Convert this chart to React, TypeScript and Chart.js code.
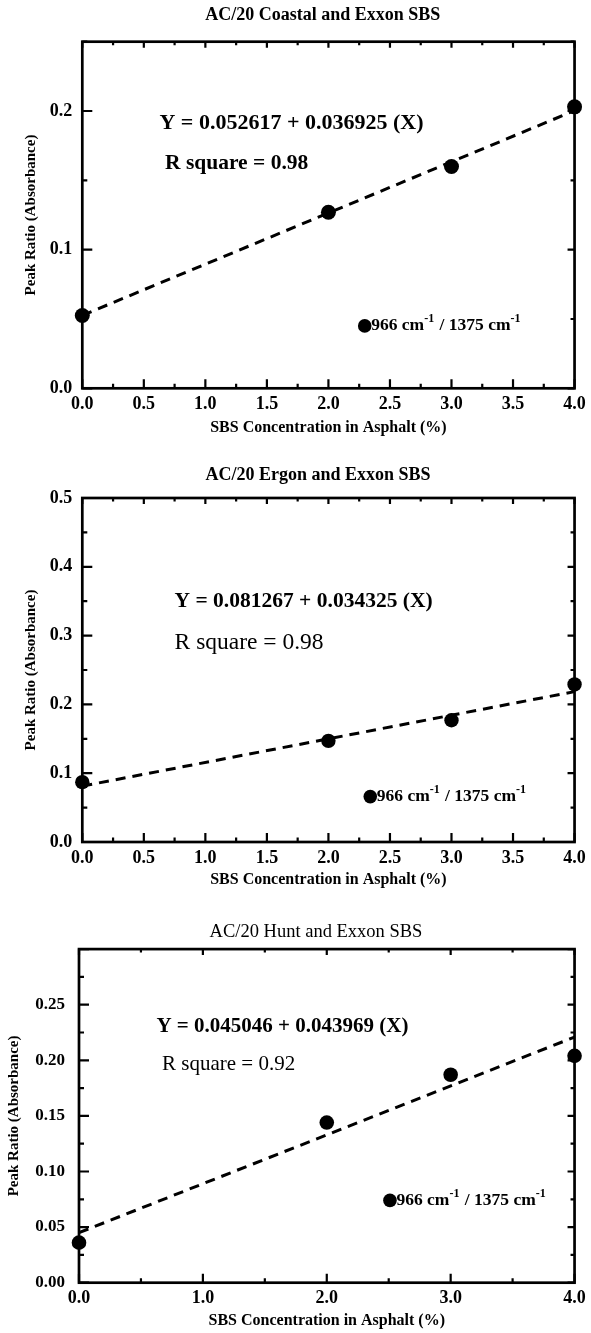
import React, { useEffect, useRef } from "react";
import { Chart, registerables } from "chart.js";

Chart.register(...registerables);

const FONT = "'Liberation Serif', 'Times New Roman', Times, serif";

// ---------- data ----------
const sbsPercent = [0, 2, 3, 4];
const coastalPeakRatio = [0.0525, 0.127, 0.16, 0.203];
const ergonPeakRatio = [0.087, 0.147, 0.177, 0.229];
const huntPeakRatio = [0.036, 0.144, 0.187, 0.204];

const fitPercent = [0, 4];
const coastalFit = [0.0526, 0.2003];
const ergonFit = [0.0813, 0.2186];
const huntFit = [0.045, 0.2209];

const xTickLabelsHalf = ["0.0", "0.5", "1.0", "1.5", "2.0", "2.5", "3.0", "3.5", "4.0"];
const xTickLabelsWhole = ["0.0", "1.0", "2.0", "3.0", "4.0"];
const coastalYTickLabels = ["0.0", "0.1", "0.2"];
const ergonYTickLabels = ["0.0", "0.1", "0.2", "0.3", "0.4", "0.5"];
const huntYTickLabels = ["0.00", "0.05", "0.10", "0.15", "0.20", "0.25"];

const chartTitles = [
  "AC/20 Coastal and Exxon SBS",
  "AC/20 Ergon and Exxon SBS",
  "AC/20 Hunt and Exxon SBS",
];
const equations = [
  "Y = 0.052617 + 0.036925 (X)",
  "Y = 0.081267 + 0.034325 (X)",
  "Y = 0.045046 + 0.043969 (X)",
];
const rSquares = ["R square = 0.98", "R square = 0.98", "R square = 0.92"];
const xAxisTitle = "SBS Concentration in Asphalt (%)";
const yAxisTitle = "Peak Ratio (Absorbance)";
const legendParts = ["966 cm", "-1", " / 1375 cm", "-1"];

// ---------- layout specs ----------
type Spec = {
  top: number;
  height: number;
  title: string;
  titleFont: { size: number; weight: string };
  titlePadTop: number;
  titlePadBottom: number;
  leftWidth: number;
  padRight: number;
  rightWidth: number;
  xAxisHeight: number;
  xTitlePad: number;
  yTitlePad: number;
  xTickPad: number;
  yTickPad: number;
  yTickSize: number;
  yMax: number;
  yStep: number;
  yMajor: number;
  yLabels: string[];
  xStep: number;
  xMajor: number;
  xLabels: string[];
  points: number[];
  fit: number[];
  eq: string;
  eqPos: [number, number];
  eqFont: string;
  rsq: string;
  rsqPos: [number, number];
  rsqFont: string;
  legendPos: [number, number];
  pointRadius: number;
};

const specs: Spec[] = [
  {
    top: 0,
    height: 440,
    title: chartTitles[0],
    titleFont: { size: 18, weight: "bold" },
    titlePadTop: 4.2,
    titlePadBottom: 15.9,
    leftWidth: 82.3,
    padRight: -54.6,
    rightWidth: 65.3,
    xAxisHeight: 51.7,
    xTitlePad: 2.4,
    yTitlePad: 22,
    xTickPad: 5.2,
    yTickPad: 10,
    yTickSize: 18,
    yMax: 0.25,
    yStep: 0.05,
    yMajor: 0.1,
    yLabels: coastalYTickLabels,
    xStep: 0.25,
    xMajor: 0.5,
    xLabels: xTickLabelsHalf,
    points: coastalPeakRatio,
    fit: coastalFit,
    eq: equations[0],
    eqPos: [0.627, 0.191],
    eqFont: `bold 22px ${FONT}`,
    rsq: rSquares[0],
    rsqPos: [0.672, 0.162],
    rsqFont: `bold 21.5px ${FONT}`,
    legendPos: [2.295, 0.045],
    pointRadius: 7.5,
  },
  {
    top: 440,
    height: 455,
    title: chartTitles[1],
    titleFont: { size: 18, weight: "bold" },
    titlePadTop: 24.2,
    titlePadBottom: 12.2,
    leftWidth: 82.3,
    padRight: -45,
    rightWidth: 56.5,
    xAxisHeight: 53,
    xTitlePad: 5.4,
    yTitlePad: 22,
    xTickPad: 5.2,
    yTickPad: 10,
    yTickSize: 18,
    yMax: 0.5,
    yStep: 0.05,
    yMajor: 0.1,
    yLabels: ergonYTickLabels,
    xStep: 0.25,
    xMajor: 0.5,
    xLabels: xTickLabelsHalf,
    points: ergonPeakRatio,
    fit: ergonFit,
    eq: equations[1],
    eqPos: [0.75, 0.349],
    eqFont: `bold 21.5px ${FONT}`,
    rsq: rSquares[1],
    rsqPos: [0.75, 0.289],
    rsqFont: `23.5px ${FONT}`,
    legendPos: [2.34, 0.066],
    pointRadius: 7.2,
  },
  {
    top: 895,
    height: 438,
    title: chartTitles[2],
    titleFont: { size: 18.5, weight: "normal" },
    titlePadTop: 25.9,
    titlePadBottom: 6,
    leftWidth: 79,
    padRight: -41,
    rightWidth: 56,
    xAxisHeight: 50.3,
    xTitlePad: 2.4,
    yTitlePad: 5,
    xTickPad: 5.2,
    yTickPad: 14,
    yTickSize: 17,
    yMax: 0.3,
    yStep: 0.025,
    yMajor: 0.05,
    yLabels: huntYTickLabels,
    xStep: 0.5,
    xMajor: 1,
    xLabels: xTickLabelsWhole,
    points: huntPeakRatio,
    fit: huntFit,
    eq: equations[2],
    eqPos: [0.625, 0.23],
    eqFont: `bold 21px ${FONT}`,
    rsq: rSquares[2],
    rsqPos: [0.67, 0.196],
    rsqFont: `21px ${FONT}`,
    legendPos: [2.51, 0.074],
    pointRadius: 7.3,
  },
];

const isMultiple = (v: number, step: number) =>
  Math.abs(v / step - Math.round(v / step)) < 1e-6;

function makeOverlay(spec: Spec) {
  return {
    id: "overlay",
    beforeDatasetsDraw(chart: any) {
      const { ctx, chartArea: a } = chart;
      const xs = chart.scales.x;
      const ys = chart.scales.y;
      ctx.save();
      ctx.strokeStyle = "#000";
      ctx.lineWidth = 2.7;
      ctx.strokeRect(a.left, a.top, a.right - a.left, a.bottom - a.top);
      ctx.lineWidth = 2.2;
      ctx.beginPath();
      xs.ticks.forEach((t: any) => {
        const px = xs.getPixelForValue(t.value);
        const major = isMultiple(t.value, spec.xMajor);
        ctx.moveTo(px, a.bottom);
        ctx.lineTo(px, a.bottom - (major ? 9 : 4.5));
        ctx.moveTo(px, a.top);
        ctx.lineTo(px, a.top + (major ? 6 : 3.5));
      });
      ys.ticks.forEach((t: any) => {
        const py = ys.getPixelForValue(t.value);
        const major = isMultiple(t.value, spec.yMajor);
        ctx.moveTo(a.left, py);
        ctx.lineTo(a.left + (major ? 10 : 5), py);
        ctx.moveTo(a.right, py);
        ctx.lineTo(a.right - (major ? 7 : 4), py);
      });
      ctx.stroke();
      ctx.restore();
    },
    afterDatasetsDraw(chart: any) {
      const { ctx } = chart;
      const xs = chart.scales.x;
      const ys = chart.scales.y;
      ctx.save();
      ctx.fillStyle = "#000";
      ctx.textBaseline = "middle";
      ctx.textAlign = "left";
      ctx.font = spec.eqFont;
      ctx.fillText(spec.eq, xs.getPixelForValue(spec.eqPos[0]), ys.getPixelForValue(spec.eqPos[1]));
      ctx.font = spec.rsqFont;
      ctx.fillText(spec.rsq, xs.getPixelForValue(spec.rsqPos[0]), ys.getPixelForValue(spec.rsqPos[1]));

      // legend
      const lx = xs.getPixelForValue(spec.legendPos[0]);
      const ly = ys.getPixelForValue(spec.legendPos[1]);
      ctx.beginPath();
      ctx.arc(lx, ly, 6.8, 0, Math.PI * 2);
      ctx.fill();
      let tx = lx + 6.5;
      const mainFont = `bold 17.5px ${FONT}`;
      const supFont = `bold 12px ${FONT}`;
      legendParts.forEach((part, i) => {
        const sup = i % 2 === 1;
        ctx.font = sup ? supFont : mainFont;
        ctx.fillText(part, tx, sup ? ly - 7 : ly);
        tx += ctx.measureText(part).width + (sup ? 1 : 0);
      });
      ctx.restore();
    },
  };
}

function makeConfig(spec: Spec): any {
  return {
    type: "scatter",
    data: {
      datasets: [
        {
          label: "966 cm-1 / 1375 cm-1",
          data: sbsPercent.map((x, i) => ({ x, y: spec.points[i] })),
          pointRadius: spec.pointRadius,
          pointHoverRadius: spec.pointRadius,
          backgroundColor: "#000",
          borderColor: "#000",
          borderWidth: 0,
          clip: false,
        },
        {
          label: "fit",
          data: fitPercent.map((x, i) => ({ x, y: spec.fit[i] })),
          showLine: true,
          borderColor: "#000",
          borderWidth: 3,
          borderDash: [10, 7],
          pointRadius: 0,
          fill: false,
          clip: false,
        },
      ],
    },
    options: {
      responsive: false,
      animation: false,
      devicePixelRatio: 1,
      layout: { padding: { left: 0, right: spec.padRight, top: 0, bottom: 0 } },
      plugins: {
        legend: { display: false },
        tooltip: { enabled: false },
        title: {
          display: true,
          text: spec.title,
          color: "#000",
          fullSize: true,
          font: { family: FONT, size: spec.titleFont.size, weight: spec.titleFont.weight, lineHeight: 1.2 },
          padding: { top: spec.titlePadTop, bottom: spec.titlePadBottom },
        },
      },
      scales: {
        x: {
          type: "linear",
          position: "bottom",
          min: 0,
          max: 4,
          grid: { display: false, drawTicks: false, tickLength: 0 },
          border: { display: false },
          ticks: {
            stepSize: spec.xStep,
            autoSkip: false,
            maxRotation: 0,
            minRotation: 0,
            padding: spec.xTickPad,
            color: "#000",
            font: { family: FONT, size: 18, weight: "bold", lineHeight: 1.2 },
            callback: (v: number) =>
              isMultiple(v, spec.xMajor) ? spec.xLabels[Math.round(v / spec.xMajor)] ?? "" : "",
          },
          title: {
            display: true,
            text: xAxisTitle,
            color: "#000",
            font: { family: FONT, size: 16, weight: "bold", lineHeight: 1.2 },
            padding: { top: 0, bottom: spec.xTitlePad },
          },
          afterFit: (s: any) => {
            s.height = spec.xAxisHeight;
          },
        },
        y: {
          type: "linear",
          position: "left",
          min: 0,
          max: spec.yMax,
          grid: { display: false, drawTicks: false, tickLength: 0 },
          border: { display: false },
          ticks: {
            stepSize: spec.yStep,
            autoSkip: false,
            padding: spec.yTickPad,
            color: "#000",
            font: { family: FONT, size: spec.yTickSize, weight: "bold", lineHeight: 1.2 },
            callback: (v: number) =>
              isMultiple(v, spec.yMajor) ? spec.yLabels[Math.round(v / spec.yMajor)] ?? "" : "",
          },
          title: {
            display: true,
            text: yAxisTitle,
            color: "#000",
            font: { family: FONT, size: 15, weight: "bold", lineHeight: 1.2 },
            padding: { top: spec.yTitlePad, bottom: 0 },
          },
          afterFit: (s: any) => {
            s.width = spec.leftWidth;
          },
        },
        spacer: {
          type: "linear",
          position: "right",
          display: true,
          grid: { display: false, drawTicks: false },
          border: { display: false },
          ticks: { display: false },
          afterFit: (s: any) => {
            s.width = spec.rightWidth;
          },
        },
      },
    },
    plugins: [makeOverlay(spec)],
  };
}

function PeakChart({ spec }: { spec: Spec }) {
  const ref = useRef<HTMLCanvasElement>(null);
  useEffect(() => {
    if (!ref.current) return;
    const chart = new Chart(ref.current, makeConfig(spec));
    return () => chart.destroy();
  }, [spec]);
  return (
    <canvas
      ref={ref}
      width={591}
      height={spec.height}
      style={{ position: "absolute", left: 0, top: spec.top, width: 591, height: spec.height }}
    />
  );
}

export default function App() {
  return (
    <div
      style={{
        position: "absolute",
        left: 0,
        top: 0,
        width: 591,
        height: 1333,
        background: "#fff",
        overflow: "hidden",
      }}
    >
      {specs.map((s, i) => (
        <PeakChart key={i} spec={s} />
      ))}
    </div>
  );
}
